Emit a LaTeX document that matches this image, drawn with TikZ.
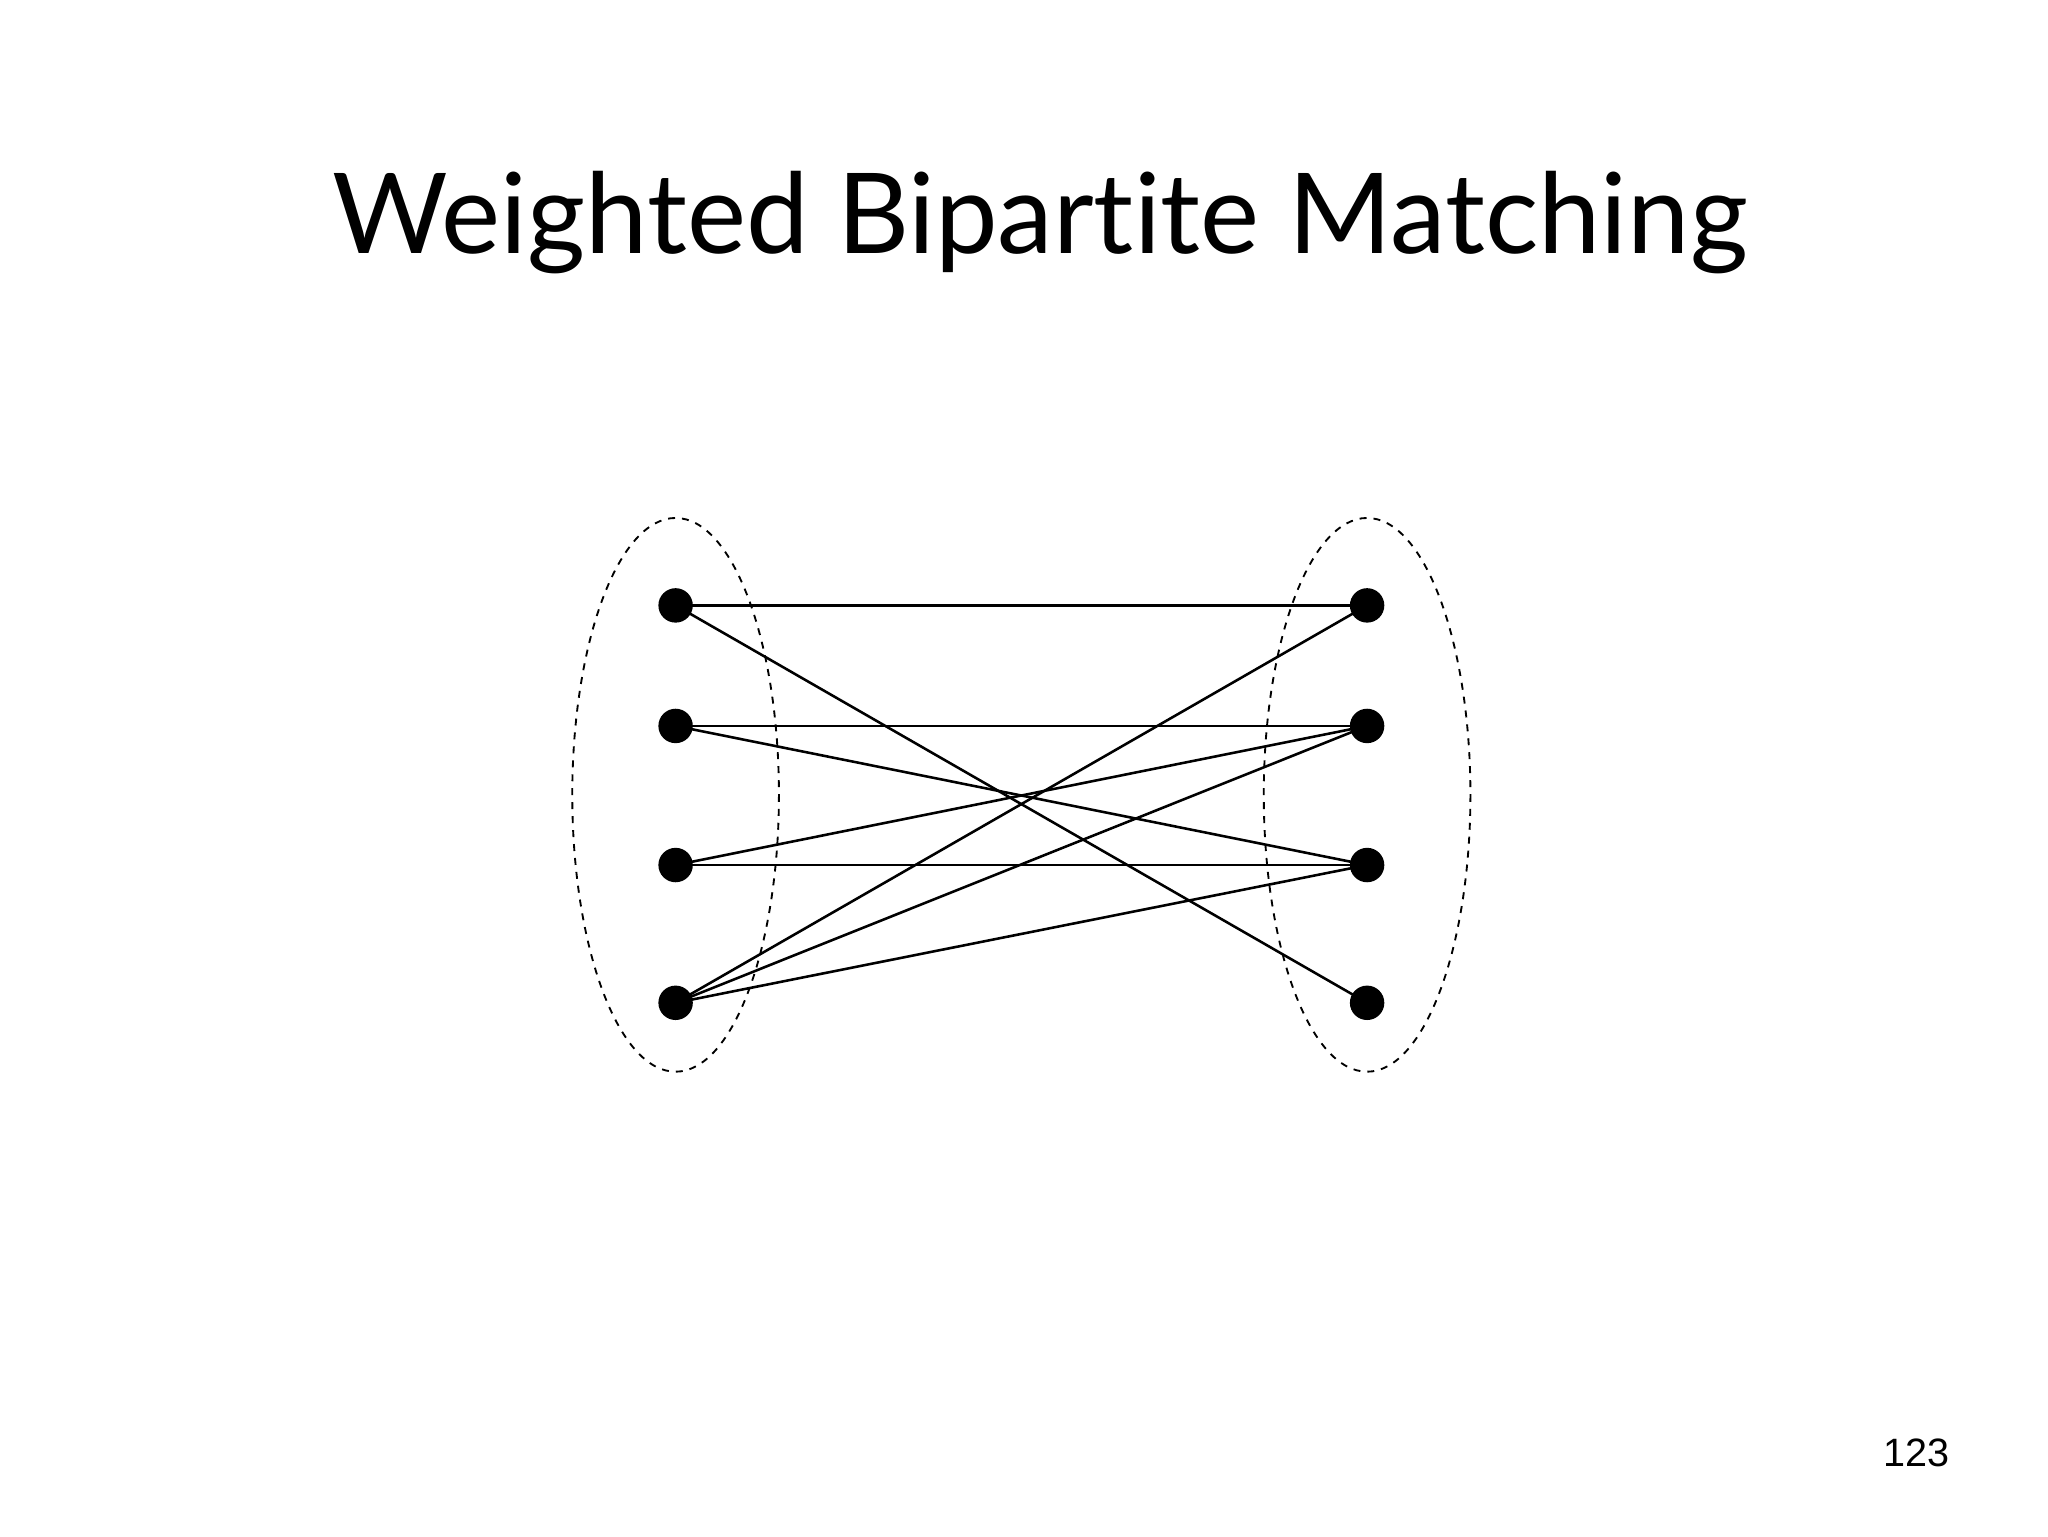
\documentclass[tikz,border=0pt]{standalone}
\usepackage{fontspec}
\setmainfont{Liberation Sans}
\newfontfamily\titlefont[Ligatures={NoCommon,NoRare,NoDiscretionary}]{Lato}
\begin{document}
\begin{tikzpicture}[x=0.02cm,y=-0.02cm,
  dot/.style={circle,fill=black,inner sep=0pt,minimum size=0.52cm},
  edge/.style={line width=1.1pt},
  grp/.style={dashed,line width=0.8pt}]
\useasboundingbox (0,0) rectangle (1546,1160);
\node (title) at (785,168) {\titlefont\fontsize{48}{56}\selectfont Weighted Bipartite Matching};
\node (pg) at (1447,1097) {\fontsize{17}{20}\selectfont 123};
\draw[grp] (510,600) ellipse [x radius=78, y radius=209];
\draw[grp] (1032,600) ellipse [x radius=78, y radius=209];
\foreach \i/\y in {1/457,2/548,3/653,4/757}{
  \node[dot] (L\i) at (510,\y) {};
  \node[dot] (R\i) at (1032,\y) {};
}
\foreach \a/\b in {1/1,1/4,2/2,2/3,3/2,3/3,4/1,4/2,4/3}
  \draw[edge] (L\a.center) -- (R\b.center);
\end{tikzpicture}
\end{document}
